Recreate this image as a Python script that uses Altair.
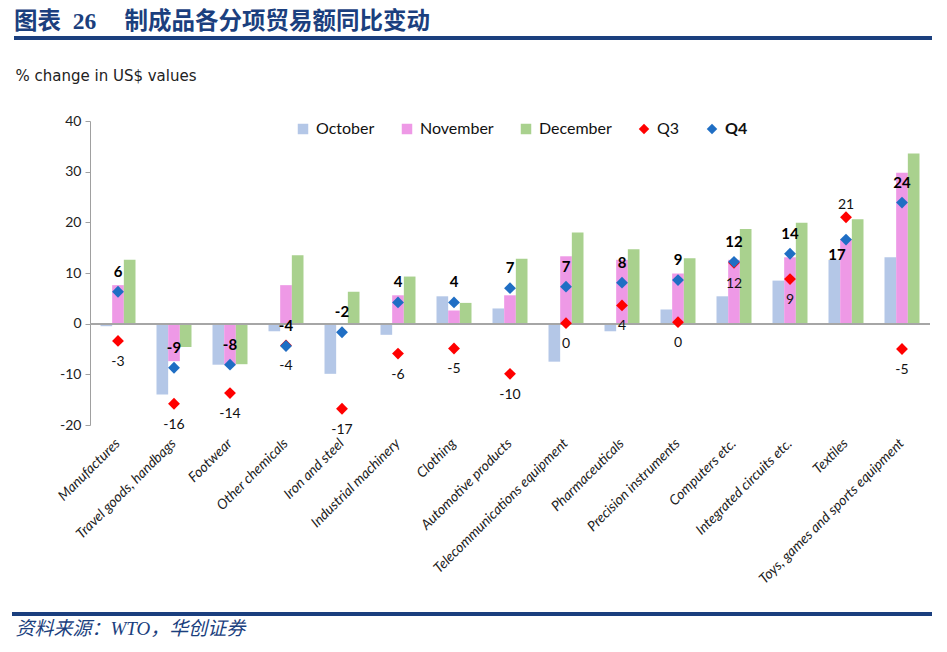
import altair as alt
import pandas as pd

# ---------------- data ----------------
categories = ["Manufactures", "Travel goods, handbags", "Footwear", "Other chemicals",
              "Iron and steel", "Industrial machinery", "Clothing", "Automotive products",
              "Telecommunications equipment", "Pharmaceuticals", "Precision instruments",
              "Computers etc.", "Integrated circuits etc.", "Textiles",
              "Toys, games and sports equipment"]
october = [-0.5, -14.0, -8.1, -1.5, -9.9, -2.2, 5.4, 3.0, -7.5, -1.5, 2.8, 5.4, 8.5, 12.6, 13.1]
november = [7.6, -7.4, -8.1, 7.6, 0.0, 5.6, 2.6, 5.6, 13.3, 12.6, 9.9, 12.6, 13.1, 16.7, 29.8]
december = [12.6, -4.6, -8.0, 13.5, 6.3, 9.3, 4.1, 12.8, 18.0, 14.7, 12.9, 18.7, 19.9, 20.6, 33.6]
q3 = [-3.4, -15.8, -13.7, -4.3, -16.8, -5.9, -4.9, -9.9, 0.1, 3.6, 0.3, 12.0, 8.8, 21.0, -5.0]
q4 = [6.3, -8.7, -8.1, -4.4, -1.7, 4.2, 4.2, 7.0, 7.3, 8.1, 8.6, 12.2, 13.8, 16.6, 23.9]

bar_series = ["October", "November", "December"]
point_series = ["Q3", "Q4"]
all_series = bar_series + point_series
series_colors = ["#B4C7E7", "#EE99E6", "#A9D18E", "#FF0000", "#1F6EC4"]
y_ticks = [-20, -10, 0, 10, 20, 30, 40]

title_text = "图表\u200226\u2003\u2009制成品各分项贸易额同比变动"
y_title = "% change in US$ values"
source_text = "资料来源：WTO，华创证券"

# ---------------- tables ----------------
bars_df = pd.DataFrame(
    [(c, s, v) for s, vals in zip(bar_series, [october, november, december])
     for c, v in zip(categories, vals)],
    columns=["category", "series", "value"])
points_df = pd.DataFrame(
    [(c, s, v) for s, vals in zip(point_series, [q3, q4])
     for c, v in zip(categories, vals)],
    columns=["category", "series", "value"])

LATIN = "Lato"
NAVY = "#1B3F7E"

x_enc = alt.X("category:N", sort=categories,
              scale=alt.Scale(paddingInner=0.375, paddingOuter=0.1875),
              axis=alt.Axis(title=source_text, labelAngle=-45, labelAlign="right",
                            labelBaseline="middle", labelPadding=16, ticks=False,
                            tickSize=0, domain=False, labelFont=LATIN,
                            labelFontStyle="italic", labelFontSize=14,
                            labelColor="#222222", labelLimit=400,
                            titleX=-75, titleY=203, titleAlign="left",
                            titleAnchor="start", titleBaseline="middle",
                            titleFont="Liberation Serif, Noto Sans CJK SC",
                            titleFontStyle="italic", titleFontWeight="normal",
                            titleFontSize=19, titleColor=NAVY))
y_enc = alt.Y("value:Q", scale=alt.Scale(domain=[-20, 40], nice=False),
              axis=alt.Axis(title=y_title, values=y_ticks, grid=False,
                            labelExpr="replace(datum.label, '\u2212', '-')",
                            domainColor="#A0A0A0", tickColor="#A0A0A0",
                            tickSize=5, labelFont=LATIN, labelFontSize=14,
                            labelColor="#222222", labelPadding=4,
                            titleAngle=0, titleX=-75, titleY=-46,
                            titleAlign="left", titleBaseline="middle",
                            titleFont="DejaVu Sans", titleFontSize=15,
                            titleFontWeight="normal", titleColor="#222222"))

legend = alt.Legend(title=None, orient="none", legendX=205, legendY=0,
                    direction="horizontal", labelFont=LATIN, labelFontSize=16,
                    labelColor="#111111", symbolSize=110, labelOffset=5,
                    columnPadding=24, symbolStrokeWidth=0,
                    symbolType={"expr": "(datum.value == 'Q3' || datum.value == 'Q4') ? 'diamond' : 'square'"},
                    labelFontWeight={"expr": "datum.value == 'Q4' ? 'bold' : 'normal'"})
color_enc = alt.Color("series:N", scale=alt.Scale(domain=all_series, range=series_colors),
                      legend=legend)

bars = alt.Chart(bars_df).mark_bar().encode(
    x=x_enc, y=y_enc,
    xOffset=alt.XOffset("series:N", sort=bar_series, scale=alt.Scale(paddingInner=0)),
    color=color_enc)

zero = alt.Chart(bars_df).mark_rule(color="#A6A6A6", strokeWidth=1.5).encode(y=alt.datum(0))

q3_pts = alt.Chart(points_df).transform_filter("datum.series == 'Q3'").mark_point(
    shape="diamond", filled=True, size=140, opacity=1).encode(
    x=alt.X("category:N", sort=categories), y="value:Q", color=color_enc)
q4_pts = alt.Chart(points_df).transform_filter("datum.series == 'Q4'").mark_point(
    shape="diamond", filled=True, size=140, opacity=1).encode(
    x=alt.X("category:N", sort=categories), y="value:Q", color=color_enc)

label_calc = "replace(format(datum.value, '.0f'), '\u2212', '-')"
txt_enc = dict(x=alt.X("category:N", sort=categories), y="value:Q",
               text=alt.Text("label:N"))


def labels(filter_expr):
    return alt.Chart(points_df).transform_filter(filter_expr).transform_calculate(
        label=label_calc)


q4_lbl = labels("datum.series == 'Q4' && datum.category != 'Textiles'").mark_text(
    font=LATIN, fontSize=15, fontWeight="bold", color="#000000", dy=-20).encode(**txt_enc)
q3_lbl = labels("datum.series == 'Q3' && datum.category != 'Textiles'").mark_text(
    font=LATIN, fontSize=14, color="#111111", dy=21).encode(**txt_enc)
q3_lbl_tx = labels("datum.series == 'Q3' && datum.category == 'Textiles'").mark_text(
    font=LATIN, fontSize=14, color="#111111", dy=-12).encode(**txt_enc)
q4_lbl_tx = labels("datum.series == 'Q4' && datum.category == 'Textiles'").mark_text(
    font=LATIN, fontSize=15, fontWeight="bold", color="#000000", dx=-9, dy=15).encode(**txt_enc)

# decorative report rules (header / footer)
head_rule = alt.Chart(bars_df).mark_rule(color=NAVY, strokeWidth=4).encode(
    x=alt.value(-76), x2=alt.value(842), y=alt.value(-83))
foot_rule = alt.Chart(bars_df).mark_rule(color=NAVY, strokeWidth=3).encode(
    x=alt.value(-78), x2=alt.value(842), y=alt.value(493))

chart = alt.layer(
    bars, zero, q3_pts, q4_pts, q4_lbl, q3_lbl, q3_lbl_tx, q4_lbl_tx, head_rule, foot_rule
).properties(
    width=840, height=304,
    title=alt.TitleParams(title_text, anchor="start", frame="group", orient="top",
                          font="Liberation Serif, Noto Sans CJK SC", fontSize=23.5,
                          fontWeight="bold", color=NAVY, dx=-76, dy=-3, offset=0),
    autosize=alt.AutoSizeParams(type="none"),
    padding={"left": 82, "top": 113, "right": 8, "bottom": 217},
).configure_view(stroke=None)

chart.save("out.html", embed_options={"renderer": "svg", "actions": False})
